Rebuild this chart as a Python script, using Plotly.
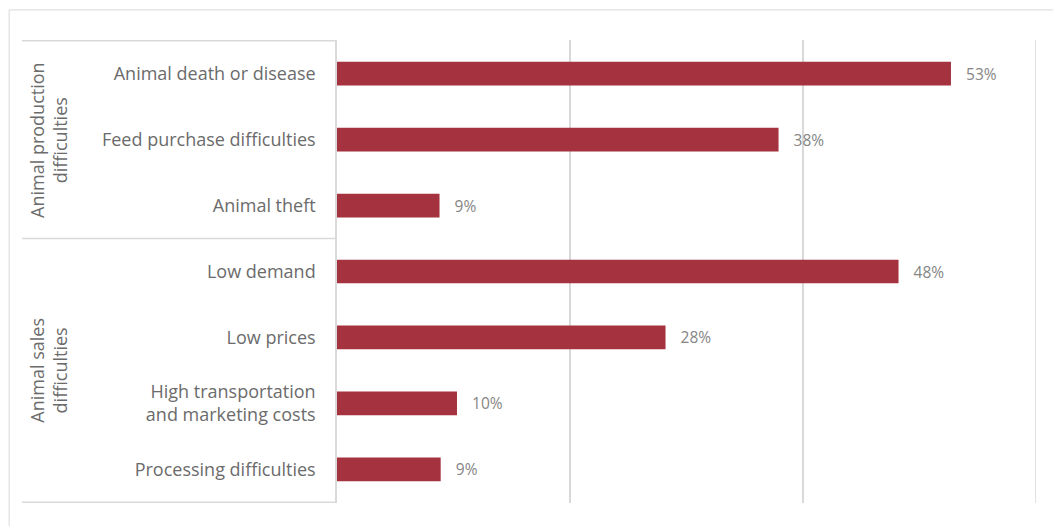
import plotly.graph_objects as go

categories = ["Animal death or disease", "Feed purchase difficulties", "Animal theft",
              "Low demand", "Low prices", "High transportation<br>and marketing costs",
              "Processing difficulties"]
groups = ["Animal production<br>difficulties", "Animal sales<br>difficulties"]
group_sizes = [3, 4]
values = [0.527, 0.379, 0.088, 0.482, 0.282, 0.103, 0.089]
labels = ["53%", "38%", "9%", "48%", "28%", "10%", "9%"]

BAR = "#a5323f"
GRID = "#d9d9d9"
TXT = "#6b6b6b"
FONT = "Open Sans"
PAD = "\u00a0\u00a0\u00a0"
XMAX = 0.6

fig = go.Figure(go.Bar(
    x=values, y=categories, orientation="h",
    marker=dict(color=BAR, line=dict(width=0)),
    text=[PAD + t for t in labels], textposition="outside", cliponaxis=False,
    textfont=dict(family=FONT, size=15.5, color="#858585"),
    width=0.36,
))

shapes = []
# outer chart border
shapes.append(dict(type="rect", xref="paper", yref="paper", x0=-0.469, x1=1.03,
                   y0=-0.08, y1=1.065, line=dict(color=GRID, width=1), layer="below"))
# gridline at the right end of the axis
shapes.append(dict(type="line", xref="x", yref="paper", x0=XMAX, x1=XMAX, y0=0, y1=1,
                   line=dict(color=GRID, width=1.5), layer="below"))
# group divider lines
start = -0.5
bounds = [start]
for s in group_sizes:
    start += s
    bounds.append(start)
for b in bounds:
    shapes.append(dict(type="line", xref="paper", yref="y", x0=-0.4506, x1=0,
                       y0=b, y1=b, line=dict(color=GRID, width=1.5)))

annotations = []
for i, g in enumerate(groups):
    mid = (bounds[i] + bounds[i + 1]) / 2
    annotations.append(dict(text=g, xref="paper", yref="y", x=-0.413, y=mid,
                            textangle=-90, showarrow=False,
                            font=dict(family=FONT, size=18, color=TXT),
                            xanchor="center", yanchor="middle"))

fig.update_layout(
    width=1053, height=526,
    margin=dict(l=337, r=17, t=40, b=23),
    paper_bgcolor="white", plot_bgcolor="white",
    showlegend=False,
    shapes=shapes, annotations=annotations,
    xaxis=dict(range=[0, XMAX], dtick=0.2, showgrid=True, gridcolor=GRID, gridwidth=1.5,
               showticklabels=False, zeroline=False, showline=False, fixedrange=True),
    yaxis=dict(autorange="reversed", showline=True, linecolor=GRID, linewidth=1.5,
               ticks="", ticklabelstandoff=16, showgrid=False,
               tickfont=dict(family=FONT, size=18, color=TXT)),
    font=dict(family=FONT),
)

fig.write_html("out.html")
